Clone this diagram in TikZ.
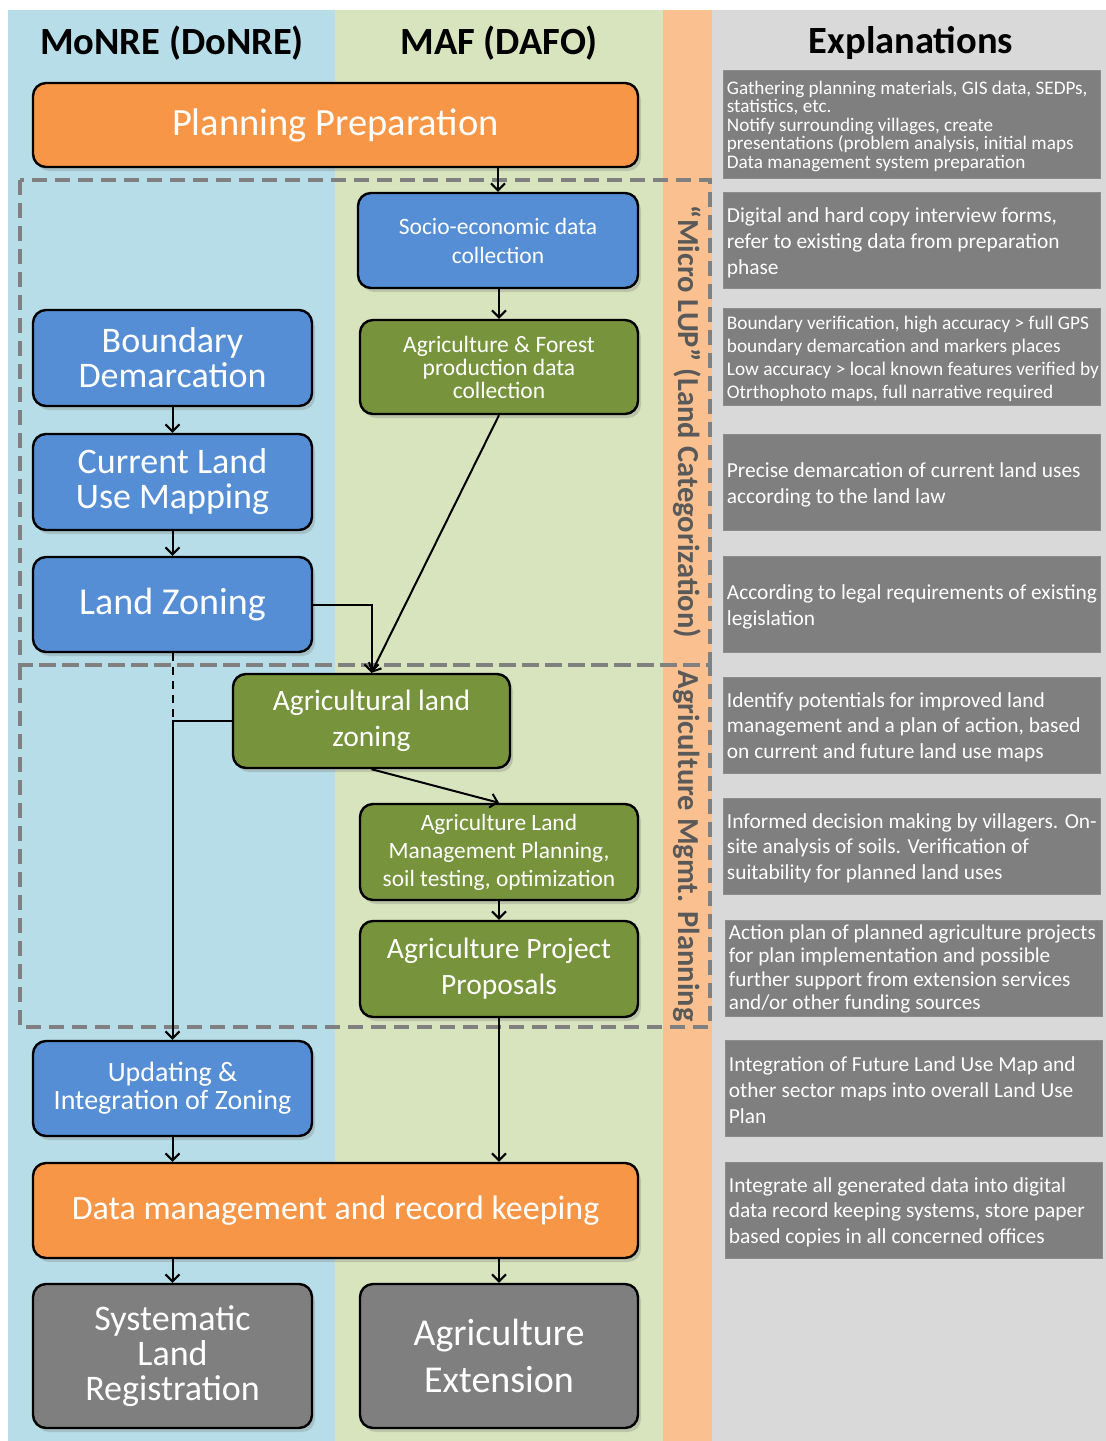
\documentclass[tikz,border=0pt]{standalone}
\usepackage{fontspec}
\setmainfont{Carlito}
\usetikzlibrary{arrows.meta,shadows}
\definecolor{bgBlue}{HTML}{B7DDE8}
\definecolor{bgGreen}{HTML}{D7E4BD}
\definecolor{bgOrange}{HTML}{FAC090}
\definecolor{bgGray}{HTML}{D9D9D9}
\definecolor{boxBlue}{HTML}{558ED5}
\definecolor{boxGreen}{HTML}{77933C}
\definecolor{boxOrange}{HTML}{F79646}
\definecolor{boxGray}{HTML}{7F7F7F}
\definecolor{dashGray}{HTML}{808080}
\definecolor{rotGray}{HTML}{595959}
\newcommand{\setfs}[2]{\fontsize{#1}{#2}\selectfont}
\tikzset{
  flowbox/.style={draw=black, line width=2.4pt, rounded corners=13pt, text=white,
    align=center, inner sep=0pt,
    drop shadow={opacity=0.3, shadow xshift=3pt, shadow yshift=-4pt}},
  bluebox/.style={flowbox, fill=boxBlue},
  greenbox/.style={flowbox, fill=boxGreen},
  orangebox/.style={flowbox, fill=boxOrange},
  graybox/.style={flowbox, fill=boxGray},
  arr/.style={draw=black, line width=2pt, -{Straight Barb[length=7pt,width=14pt]}},
  plainline/.style={draw=black, line width=2pt},
  expbox/.style={fill=boxGray, draw=black!45, line width=0.6pt, inner sep=0pt},
  exptext/.style={text=white, align=left, anchor=west, inner sep=0pt},
  phase/.style={draw=dashGray, line width=3.5pt, dash pattern=on 15pt off 8pt},
  rottext/.style={rotate=-90, text=rotGray, font=\bfseries\setfs{30.5}{36}},
  header/.style={font=\bfseries\setfs{38.5}{44}, text=black}
}
\begin{document}
\begin{tikzpicture}[x=1pt,y=-1pt]
\useasboundingbox (0,0) rectangle (1106,1441);
\fill[white] (0,0) rectangle (1106,1441);
% column backgrounds
\fill[bgBlue] (8,10) rectangle (335,1441);
\fill[bgGreen] (335,10) rectangle (663,1441);
\fill[bgOrange] (663,10) rectangle (712,1441);
\fill[bgGray] (712,10) rectangle (1106,1441);

% headers
\node[header] (h1) at (172,43) {MoNRE (DoNRE)};
\node[header] (h2) at (499,43) {MAF (DAFO)};
\node[header] (h3) at (911,43) {Explanations};

% phase frames
\draw[phase] (20,180) rectangle (710,665);
\draw[phase] (20,665) rectangle (710,1027);

% rotated labels
\node[rottext] (r1) at (687,422) {“Micro LUP” (Land Categorization)};
\node[rottext] (r2) at (687,846) {Agriculture Mgmt. Planning};

% flow boxes
\node[orangebox, minimum width=605pt, minimum height=84pt, font=\setfs{38.5}{42}] (prep) at (335.5,125) {Planning Preparation};
\node[bluebox, minimum width=280pt, minimum height=95pt, font=\setfs{23.5}{29}] (socio) at (498,240.5) {Socio-economic data\\collection};
\node[greenbox, minimum width=278pt, minimum height=94pt, font=\setfs{23.5}{23}] (agf) at (499,367) {Agriculture \& Forest\\production data\\collection};
\node[bluebox, minimum width=279pt, minimum height=96pt, font=\setfs{36}{35}] (bd) at (172.5,358) {Boundary\\Demarcation};
\node[bluebox, minimum width=279pt, minimum height=96pt, font=\setfs{36}{35}] (clu) at (172.5,482) {Current Land\\Use Mapping};
\node[bluebox, minimum width=279pt, minimum height=95pt, font=\setfs{38}{40}] (lz) at (172.5,604.5) {Land Zoning};
\node[greenbox, minimum width=277pt, minimum height=94pt, font=\setfs{29.5}{36}] (alz) at (371.5,721) {Agricultural land\\zoning};
\node[greenbox, minimum width=278pt, minimum height=96pt, font=\setfs{23.4}{28}] (alm) at (499,852) {Agriculture Land\\Management Planning,\\soil testing, optimization};
\node[greenbox, minimum width=278pt, minimum height=96pt, font=\setfs{29.5}{36}] (app) at (499,969) {Agriculture Project\\Proposals};
\node[bluebox, minimum width=279pt, minimum height=95pt, font=\setfs{28}{28}] (upd) at (172.5,1088.5) {Updating \&\\Integration of Zoning};
\node[orangebox, minimum width=605pt, minimum height=95pt, font=\setfs{34}{37}] (dm) at (335.5,1210.5) {Data management and record keeping};
\node[graybox, minimum width=279pt, minimum height=144pt, font=\setfs{36}{35}] (slr) at (172.5,1356) {Systematic\\Land\\Registration};
\node[graybox, minimum width=278pt, minimum height=144pt, font=\setfs{38}{47}] (ae) at (499,1356) {Agriculture\\Extension};

% connectors
\draw[arr] (socio.north |- prep.south) -- (socio.north);
\draw[arr] (agf.north |- socio.south) -- (agf.north);
\draw[arr] (bd.south) -- (clu.north);
\draw[arr] (clu.south) -- (lz.north);
\draw[arr] (lz.east) -| (alz.north);
\draw[arr] (agf.south) -- (alz.north);
\draw[plainline, dash pattern=on 8pt off 6pt] (lz.south) -- (lz.south |- alz.west);
\draw[arr] (alz.west) -| (upd.north);
\draw[arr] (alz.south) -- (alm.north);
\draw[arr] (alm.south) -- (app.north);
\draw[arr] (app.south) -- (app.south |- dm.north);
\draw[arr] (upd.south) -- (upd.south |- dm.north);
\draw[arr] (slr.north |- dm.south) -- (slr.north);
\draw[arr] (ae.north |- dm.south) -- (ae.north);

% explanation boxes
\node[expbox, minimum width=377pt, minimum height=108pt] (e1) at (911.5,124) {};
\node[exptext, font=\setfs{19.2}{18.5}] (t1) at ([xshift=4pt,yshift=-2pt]e1.west) {Gathering planning materials, GIS data, SEDPs,\\statistics, etc.\\Notify surrounding villages, create\\presentations (problem analysis, initial maps\\Data management system preparation};
\node[expbox, minimum width=377pt, minimum height=96pt] (e2) at (911.5,240) {};
\node[exptext, font=\setfs{21.4}{26}] (t2) at ([xshift=4pt,yshift=-3pt]e2.west) {Digital and hard copy interview forms,\\refer to existing data from preparation\\phase};
\node[expbox, minimum width=377pt, minimum height=97pt] (e3) at (911.5,356.5) {};
\node[exptext, font=\setfs{19.3}{23}] (t3) at ([xshift=4pt,yshift=-2pt]e3.west) {Boundary verification, high accuracy > full GPS\\boundary demarcation and markers places\\Low accuracy > local known features verified by\\Otrthophoto maps, full narrative required};
\node[expbox, minimum width=377pt, minimum height=96pt] (e4) at (911.5,482) {};
\node[exptext, font=\setfs{21.4}{26}] (t4) at ([xshift=4pt,yshift=-3pt]e4.west) {Precise demarcation of current land uses\\according to the land law};
\node[expbox, minimum width=377pt, minimum height=96pt] (e5) at (911.5,604) {};
\node[exptext, font=\setfs{21.4}{26}] (t5) at ([xshift=4pt,yshift=-3pt]e5.west) {According to legal requirements of existing\\legislation};
\node[expbox, minimum width=377pt, minimum height=96pt] (e6) at (911.5,725) {};
\node[exptext, font=\setfs{21.4}{25.5}] (t6) at ([xshift=4pt,yshift=-2pt]e6.west) {Identify potentials for improved land\\management and a plan of action, based\\on current and future land use maps};
\node[expbox, minimum width=377pt, minimum height=96pt] (e7) at (911.5,846) {};
\node[exptext, font=\setfs{21.4}{25.5}] (t7) at ([xshift=4pt,yshift=-2pt]e7.west) {Informed decision making by villagers. On-\\site analysis of soils. Verification of\\suitability for planned land uses};
\node[expbox, minimum width=377pt, minimum height=96pt] (e8) at (913.5,968) {};
\node[exptext, font=\setfs{21.2}{23.3}] (t8) at ([xshift=4pt,yshift=-1pt]e8.west) {Action plan of planned agriculture projects\\for plan implementation and possible\\further support from extension services\\and/or other funding sources};
\node[expbox, minimum width=377pt, minimum height=96pt] (e9) at (913.5,1088) {};
\node[exptext, font=\setfs{21.4}{26}] (t9) at ([xshift=4pt,yshift=-2pt]e9.west) {Integration of Future Land Use Map and\\other sector maps into overall Land Use\\Plan};
\node[expbox, minimum width=377pt, minimum height=96pt] (e10) at (913.5,1210) {};
\node[exptext, font=\setfs{21.4}{25.5}] (t10) at ([xshift=4pt,yshift=-2pt]e10.west) {Integrate all generated data into digital\\data record keeping systems, store paper\\based copies in all concerned offices};
\end{tikzpicture}
\end{document}
